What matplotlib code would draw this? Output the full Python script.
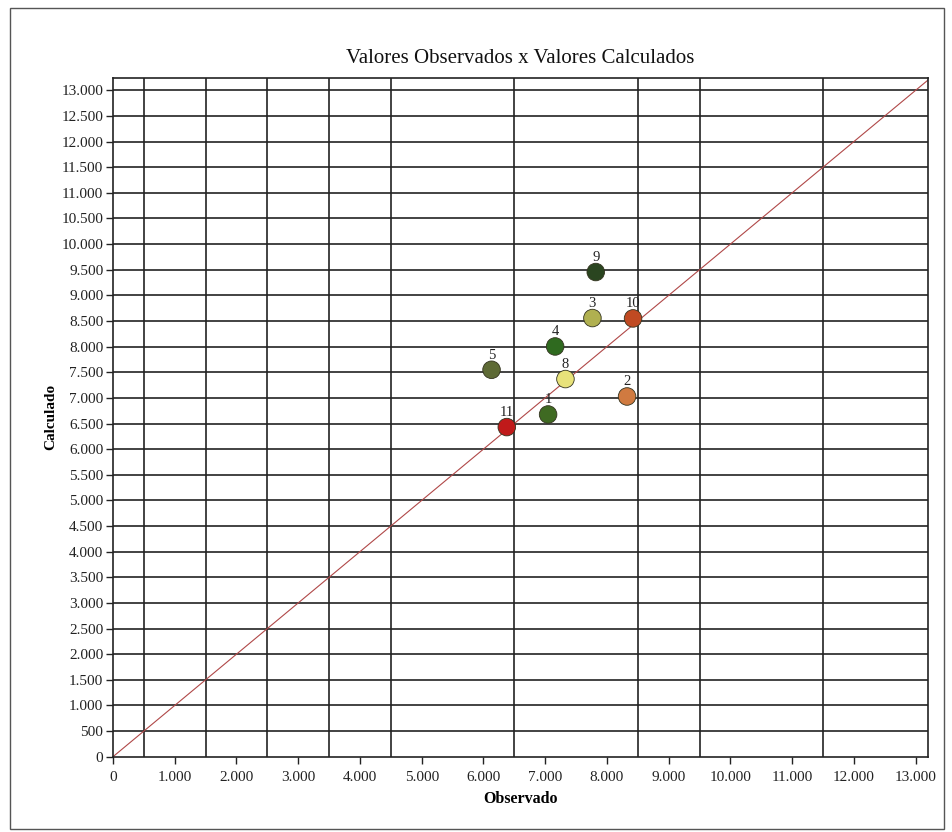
import matplotlib
matplotlib.use("Agg")
import matplotlib.pyplot as plt
from matplotlib.ticker import FuncFormatter, FixedLocator
from matplotlib.patches import Rectangle

# Data
labels = ["1", "2", "3", "4", "5", "8", "9", "10", "11"]
observado = [7047, 8326, 7765, 7161, 6131, 7328, 7819, 8423, 6378]
calculado = [6676, 7027, 8557, 8003, 7548, 7367, 9455, 8550, 6430]
colors = ["#3f6a22", "#d07a40", "#b0b050", "#2f6a1f", "#5e6a35",
          "#e8e27a", "#2a4520", "#c04a22", "#c01a1a"]

x_ticks = list(range(0, 13001, 1000))
y_ticks = list(range(0, 13001, 500))
v_grid = [500, 1500, 2500, 3500, 4500, 6500, 8500, 9500, 11500]
x_max, y_max = 13200, 13240

plt.rcParams['font.family'] = ['Liberation Serif', 'DejaVu Serif']

fig = plt.figure(figsize=(9.52, 8.32), dpi=100)
fig.patches.append(Rectangle((10/952, 1-829/832), 934/952, 821/832,
                             transform=fig.transFigure, fill=False,
                             edgecolor="#555555", linewidth=1.0))
ax = fig.add_axes([113/952, 1-756.7/832, 815/952, 678.7/832])

def fmt(v, pos):
    v = int(round(v))
    return f"{v:,}".replace(",", ".")

ax.set_xlim(0, x_max)
ax.set_ylim(0, y_max)
ax.xaxis.set_major_locator(FixedLocator(x_ticks))
ax.yaxis.set_major_locator(FixedLocator(y_ticks))
ax.xaxis.set_major_formatter(FuncFormatter(fmt))
ax.yaxis.set_major_formatter(FuncFormatter(fmt))

for yv in y_ticks[1:]:
    ax.axhline(yv, color="#222222", linewidth=1.2, zorder=1)
for xv in v_grid:
    ax.axvline(xv, color="#222222", linewidth=1.2, zorder=1)

ax.plot([0, x_max], [0, x_max], color="#b04848", linewidth=0.8, zorder=2)

ax.scatter(observado, calculado, s=160, c=colors, edgecolors="#33331f",
           linewidths=0.6, zorder=3)
for lx, ly, lab in zip(observado, calculado, labels):
    ax.annotate(lab, (lx, ly), xytext=(0, 10.5), textcoords="offset points",
                ha="center", va="center", fontsize=10.5, color="#222222", zorder=4)

for s in ax.spines.values():
    s.set_color("#222222")
    s.set_linewidth(1.2)

ax.tick_params(axis="both", direction="out", length=5, width=1.0,
               color="#222222", labelsize=11, labelcolor="#222222")
ax.tick_params(axis="x", pad=5)
ax.tick_params(axis="y", pad=2)

ax.set_title("Valores Observados x Valores Calculados", fontsize=15,
             color="#111111", pad=11)
ax.set_xlabel("Observado", fontsize=11.5, fontweight="bold", labelpad=5)
ax.set_ylabel("Calculado", fontsize=11, fontweight="bold", labelpad=3)

fig.savefig("out.png", dpi=100)
